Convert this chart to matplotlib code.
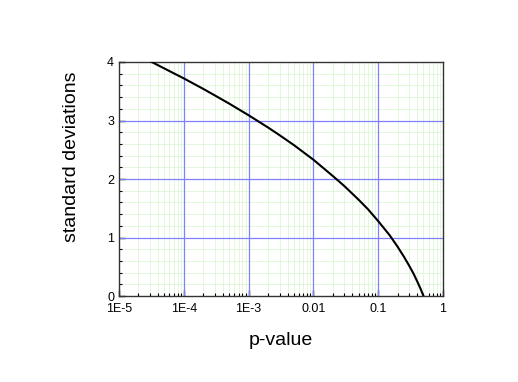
import numpy as np
import matplotlib
matplotlib.use("Agg")
import matplotlib.pyplot as plt
from matplotlib.ticker import LogLocator, MultipleLocator, NullFormatter

plt.rcParams['font.family'] = ['Liberation Sans', 'DejaVu Sans']

# Werte
p_values = [3.2e-5, 5e-5, 1e-4, 2e-4, 3e-4, 5e-4, 1e-3, 2e-3, 3e-3, 5e-3,
            0.01, 0.02, 0.03, 0.05, 0.07, 0.1, 0.15, 0.2, 0.25, 0.3,
            0.35, 0.4, 0.45, 0.5]
std_devs = [4.0, 3.89, 3.72, 3.54, 3.43, 3.29, 3.09, 2.88, 2.75, 2.58,
            2.33, 2.05, 1.88, 1.645, 1.48, 1.28, 1.04, 0.84, 0.67, 0.52,
            0.385, 0.25, 0.125, 0.0]

x_ticks = [1e-5, 1e-4, 1e-3, 0.01, 0.1, 1]
x_labels = ["1E-5", "1E-4", "1E-3", "0.01", "0.1", "1"]
y_ticks = [0, 1, 2, 3, 4]

fig = plt.figure(figsize=(5.18, 3.82), dpi=100)
ax = fig.add_axes([0.2297, 0.2251, 0.6255, 0.6126])

ax.plot(p_values, std_devs, color="black", lw=1.5, zorder=3)

ax.set_xscale("log")
ax.set_xlim(1e-5, 1)
ax.set_ylim(0, 4)
ax.set_xticks(x_ticks)
ax.set_xticklabels(x_labels)
ax.xaxis.set_minor_locator(LogLocator(base=10, subs=np.arange(2, 10)))
ax.xaxis.set_minor_formatter(NullFormatter())
ax.set_yticks(y_ticks)
ax.yaxis.set_minor_locator(MultipleLocator(0.2))

# Gitter: feines gruenes Nebengitter, blaues Hauptgitter darueber
ax.grid(True, which="minor", color="#dcf7d6", lw=0.6)
ax.set_axisbelow(True)
for xt in x_ticks[1:-1]:
    ax.axvline(xt, color="#8080ff", lw=0.9, zorder=1.5)
for yt in y_ticks[1:-1]:
    ax.axhline(yt, color="#8080ff", lw=0.9, zorder=1.5)

ax.tick_params(which="both", direction="in", top=False, right=False, labelsize=9)
ax.tick_params(which="major", length=4, width=1)
ax.tick_params(which="minor", length=2.5, width=0.8)
ax.tick_params(axis="x", pad=5)
for s in ax.spines.values():
    s.set_linewidth(1.0)
    s.set_color("#333333")

ax.set_xlabel("p-value", fontsize=14, labelpad=12)
ax.set_ylabel("standard deviations", fontsize=14, labelpad=14)
ax.yaxis.set_label_coords(-0.12, 0.594)

fig.savefig("out.png", dpi=100)
